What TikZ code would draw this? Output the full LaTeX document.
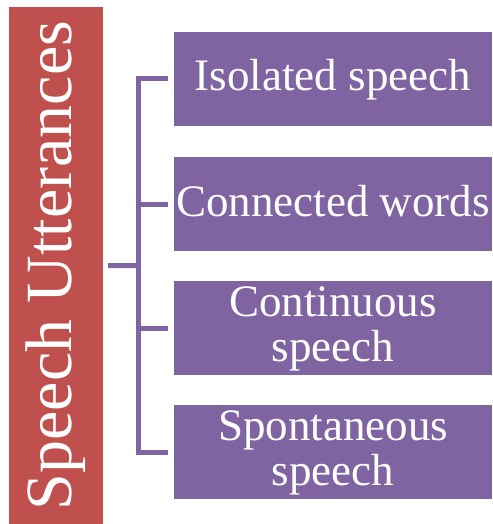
\documentclass[tikz,border=0pt]{standalone}
\usepackage{fontspec}
\setmainfont{Liberation Serif}
\usepackage{tikz}

\definecolor{uttred}{HTML}{C0504D}
\definecolor{uttpurple}{HTML}{8064A2}

% move a label down without changing its box
\newcommand{\sinklabel}[2]{\raisebox{-#1}[\height][\depth]{\begin{tabular}{@{}c@{}}#2\end{tabular}}}

\begin{document}
\begin{tikzpicture}[x=1pt, y=-1pt,
        titlebox/.style={fill=uttred, text=white, rotate=90, inner sep=0pt,
            minimum width=517pt, minimum height=94pt,
            font=\fontsize{66}{66}\selectfont},
        kindbox/.style={fill=uttpurple, text=white, inner sep=0pt, align=center,
            minimum width=318pt, minimum height=94pt,
            font=\fontsize{45}{45}\selectfont},
        bracket/.style={draw=uttpurple, line width=5pt}]
        \useasboundingbox (0,0) rectangle (492,524);

        \node[titlebox] (title) at (56,265.5) {Speech Utterances};

        \node[kindbox] (iso) at (333,79) {\sinklabel{3pt}{Isolated speech}};
        \node[kindbox] (con) at (333,204) {\sinklabel{3pt}{Connected words}};
        \node[kindbox] (cont) at (333,328) {\sinklabel{1.5pt}{Continuous\\speech}};
        \node[kindbox] (spon) at (333,452) {\sinklabel{1.5pt}{Spontaneous\\speech}};

        \coordinate (hub) at (138.5,265.7);

        \draw[bracket] ([xshift=5pt]title.south) -- (hub);
        \draw[bracket] ([xshift=-6pt]iso.west) -| (hub) |- ([xshift=-6pt]spon.west);
        \draw[bracket] (con.west -| hub) -- ([xshift=-6pt]con.west);
        \draw[bracket] (cont.west -| hub) -- ([xshift=-6pt]cont.west);
    \end{tikzpicture}
\end{document}
